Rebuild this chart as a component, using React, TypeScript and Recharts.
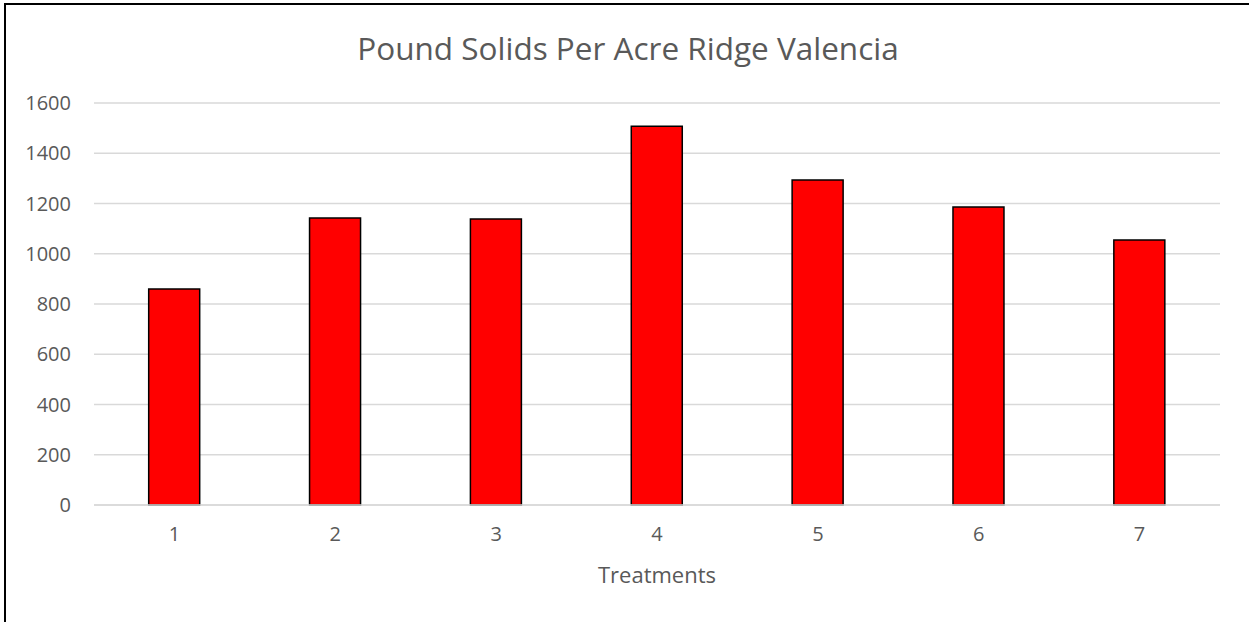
import { BarChart, Bar, XAxis, YAxis, CartesianGrid, Label } from "recharts";

const treatments = ["1", "2", "3", "4", "5", "6", "7"];
const poundSolids = [860, 1142, 1138, 1507, 1294, 1186, 1055];
const yTicks = [0, 200, 400, 600, 800, 1000, 1200, 1400, 1600];

const data = treatments.map((t, i) => ({ treatment: t, solids: poundSolids[i] }));

const FONT = '"Open Sans", "Liberation Sans", sans-serif';
const TEXT = '#595959';

export default function App() {
  return (
    <div style={{ position: 'absolute', left: 0, top: 0, width: 1249, height: 622, overflow: 'hidden', background: '#fff', fontFamily: FONT }}>
      <div style={{ position: 'absolute', left: 4, top: 3, width: 1243, height: 640, border: '2px solid #000', borderRightColor: '#7f7f7f', borderRightWidth: 1 }} />
      <div style={{ position: 'absolute', left: 0, top: 26, width: 1256, textAlign: 'center', fontSize: 31.5, color: TEXT, lineHeight: '44px' }}>
        Pound Solids Per Acre Ridge Valencia
      </div>
      <div style={{ position: 'absolute', left: 0, top: 0 }}>
        <BarChart
          width={1249}
          height={622}
          data={data}
          margin={{ top: 103, right: 29, bottom: 0, left: 0 }}
          barCategoryGap="34%"
        >
          <CartesianGrid vertical={false} stroke="#d9d9d9" strokeWidth={1.5} />
          <XAxis
            dataKey="treatment"
            height={117}
            axisLine={{ stroke: '#d9d9d9', strokeWidth: 1.5 }}
            tickLine={false}
            tickSize={0}
            tickMargin={22}
            tick={{ fill: TEXT, fontSize: 20, fontFamily: FONT }}
          >
            <Label value="Treatments" position="insideBottom" offset={39} fill={TEXT} fontSize={22} fontFamily={FONT} />
          </XAxis>
          <YAxis
            width={94}
            domain={[0, 1600]}
            ticks={yTicks}
            axisLine={false}
            tickLine={false}
            tickSize={0}
            tickMargin={23}
            tick={{ fill: TEXT, fontSize: 20, fontFamily: FONT }}
          />
          <Bar dataKey="solids" fill="#ff0000" stroke="#000" strokeWidth={1.5} isAnimationActive={false} />
        </BarChart>
      </div>
    </div>
  );
}
